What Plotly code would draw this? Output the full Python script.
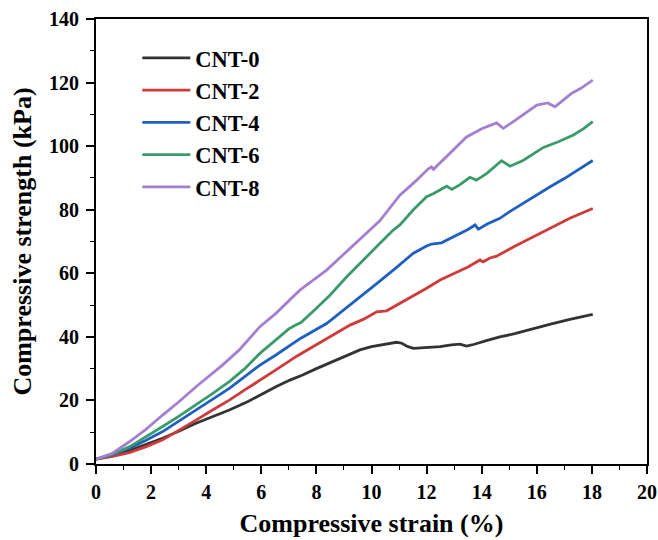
import plotly.graph_objects as go

# ---- data ----
cnt0_x = [0, 0.6, 1.21, 1.8, 2.42, 3.0, 3.63, 4.2, 4.84, 5.5, 6.0, 6.53, 7.04, 7.5, 8.0, 8.5, 9.0, 9.58, 10.0, 10.5, 10.91, 11.1, 11.3, 11.52, 12.0, 12.49, 12.9, 13.21, 13.45, 13.7, 14.2, 14.66, 15.2, 15.87, 16.5, 17.2, 18.03]
cnt0_y = [1.5, 2.6, 4.2, 6.0, 8.1, 10.3, 12.8, 14.8, 17.0, 19.6, 21.9, 24.3, 26.4, 28.0, 30.0, 31.8, 33.6, 35.9, 36.9, 37.8, 38.3, 38.0, 37.0, 36.4, 36.6, 36.9, 37.5, 37.7, 37.1, 37.6, 38.9, 40.0, 41.0, 42.6, 44.0, 45.5, 47.1]

cnt2_x = [0, 0.6, 1.21, 1.8, 2.42, 3.0, 3.63, 4.23, 4.84, 5.4, 5.95, 6.53, 7.3, 8.0, 8.6, 9.22, 9.7, 10.19, 10.55, 11.03, 11.6, 12.0, 12.49, 13.0, 13.5, 13.94, 14.05, 14.3, 14.54, 15.2, 15.87, 16.5, 17.2, 18.03]
cnt2_y = [1.5, 2.4, 3.6, 5.4, 7.6, 10.5, 13.8, 17.0, 20.1, 23.3, 26.5, 29.6, 34.0, 37.5, 40.5, 43.7, 45.5, 47.9, 48.2, 50.5, 53.5, 55.3, 57.9, 60.0, 62.0, 64.2, 63.6, 64.8, 65.4, 68.5, 71.5, 74.2, 77.3, 80.4]

cnt4_x = [0, 0.6, 1.21, 1.8, 2.42, 3.0, 3.63, 4.2, 4.84, 5.4, 5.95, 6.53, 7.42, 8.37, 9.0, 9.6, 10.2, 10.79, 11.2, 11.52, 12.0, 12.18, 12.54, 13.0, 13.5, 13.76, 13.88, 14.2, 14.66, 15.03, 15.5, 16.0, 16.5, 17.0, 17.5, 18.03]
cnt4_y = [1.5, 2.9, 5.0, 7.4, 10.2, 13.5, 17.0, 20.2, 23.8, 27.5, 31.1, 34.3, 39.5, 44.2, 48.5, 52.5, 56.8, 61.0, 64.0, 66.3, 68.6, 69.2, 69.6, 71.5, 73.8, 75.2, 73.9, 75.5, 77.3, 79.5, 82.0, 84.8, 87.3, 89.8, 92.6, 95.5]

cnt6_x = [0, 0.6, 1.21, 1.8, 2.42, 3.0, 3.63, 4.2, 4.84, 5.4, 5.95, 6.53, 7.0, 7.2, 7.45, 8.0, 8.5, 9.1, 9.7, 10.2, 10.79, 11.03, 11.52, 12.0, 12.24, 12.73, 12.91, 13.2, 13.57, 13.81, 14.2, 14.72, 15.03, 15.5, 16.24, 16.78, 17.33, 17.7, 18.03]
cnt6_y = [1.5, 3.1, 5.4, 8.4, 11.8, 15.0, 18.6, 22.0, 25.9, 30.0, 34.8, 39.0, 42.5, 43.5, 44.6, 49.0, 53.2, 58.9, 64.0, 68.5, 73.6, 75.2, 80.0, 84.1, 85.0, 87.4, 86.4, 87.8, 90.2, 89.3, 91.5, 95.4, 93.7, 95.5, 99.6, 101.4, 103.5, 105.5, 107.7]

cnt8_x = [0, 0.6, 1.21, 1.8, 2.42, 3.0, 3.63, 4.3, 4.6, 5.2, 5.95, 6.53, 7.4, 8.37, 9.0, 9.58, 10.3, 11.03, 11.64, 12.05, 12.18, 12.25, 12.8, 13.45, 14.0, 14.54, 14.78, 15.2, 16.0, 16.4, 16.66, 17.26, 17.6, 18.03]
cnt8_y = [1.5, 3.4, 7.0, 10.8, 15.4, 19.5, 24.3, 29.1, 31.2, 35.9, 43.2, 47.4, 54.7, 61.0, 66.0, 70.5, 76.5, 84.6, 89.3, 92.8, 93.5, 92.7, 97.5, 102.9, 105.5, 107.3, 105.6, 108.0, 112.9, 113.6, 112.4, 116.6, 118.2, 120.8]

names = ["CNT-0", "CNT-2", "CNT-4", "CNT-6", "CNT-8"]
colors = ["#333333", "#CF3A3A", "#1F5FC0", "#3B9A6A", "#A57FCF"]
xs = [cnt0_x, cnt2_x, cnt4_x, cnt6_x, cnt8_x]
ys = [cnt0_y, cnt2_y, cnt4_y, cnt6_y, cnt8_y]

x_ticks = list(range(0, 21, 2))
y_ticks = list(range(0, 141, 20))

FONT = "Liberation Serif"

fig = go.Figure()
for n, c, x, y in zip(names, colors, xs, ys):
    fig.add_trace(go.Scatter(x=x, y=y, mode="lines", name=n,
                             line=dict(color=c, width=2.8)))

axis_common = dict(
    showline=True, linecolor="black", linewidth=1.8, mirror=True,
    ticks="outside", ticklen=8, tickwidth=1.6, tickcolor="black",
    showgrid=False, zeroline=False, automargin=False,
    tickfont=dict(family=FONT, size=20, color="black", weight="bold"),
    minor=dict(ticks="outside", ticklen=4, tickwidth=1.3, tickcolor="black"),
)

title_font = dict(family=FONT, size=26, color="black", weight="bold")

fig.update_xaxes(range=[0, 20], tickvals=x_ticks, minor_dtick=1,
                 ticklabelstandoff=1, ticklabeloverflow="allow",
                 title=dict(text="Compressive strain (%)", standoff=12, font=title_font),
                 **axis_common)
fig.update_yaxes(range=[0, 140], tickvals=y_ticks, minor_dtick=10,
                 ticklabelstandoff=3,
                 title=dict(text="Compressive strength (kPa)", standoff=10, font=title_font),
                 **axis_common)

fig.update_layout(
    width=658, height=540,
    margin=dict(l=96, r=11, t=19, b=76),
    paper_bgcolor="white", plot_bgcolor="white",
    showlegend=True,
    legend=dict(x=0.075, y=0.96, xanchor="left", yanchor="top",
                bgcolor="rgba(0,0,0,0)", borderwidth=0,
                font=dict(family=FONT, size=22.5, color="black", weight="bold"),
                tracegroupgap=0, itemwidth=48),
)

fig.write_html("out.html",
               config={"displayModeBar": False},
               post_script="document.body.style.margin='0';document.body.style.overflow='hidden';")
